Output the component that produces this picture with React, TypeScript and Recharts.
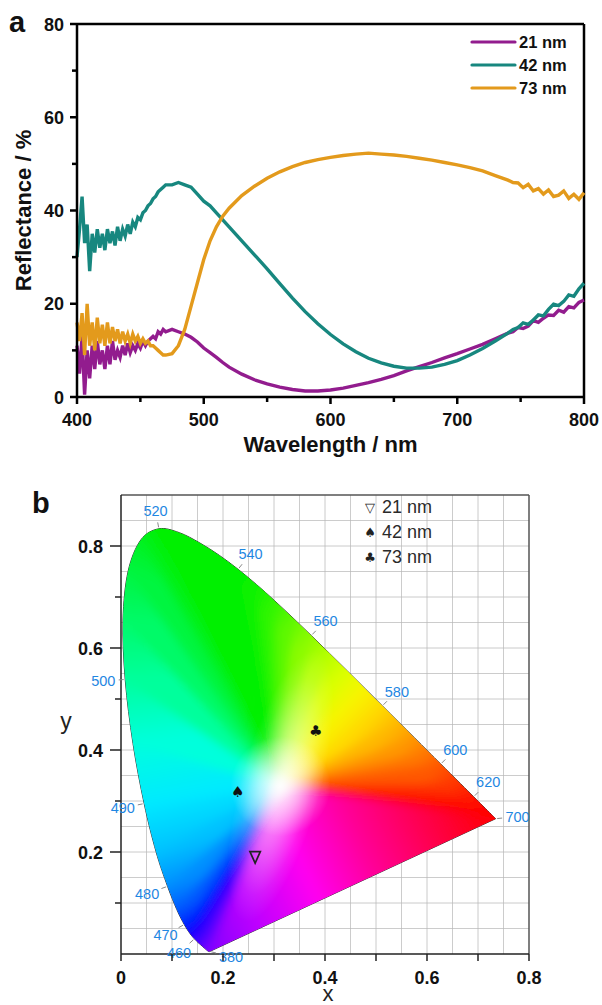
import React from "react";
import {
  LineChart,
  Line,
  XAxis,
  YAxis,
  ReferenceLine,
  Legend,
  ComposedChart,
  CartesianGrid,
  Label,
} from "recharts";

// ---------------- Panel a : reflectance spectra ----------------
const wavelengths = [
  400, 402, 404, 406, 408, 410, 412, 414, 416, 418, 420, 422, 424, 426, 428, 430, 432, 434, 436, 438,
  440, 442, 444, 446, 448, 450, 452, 454, 456, 458, 460, 462, 464, 466, 468, 470,
  475, 480, 485, 490, 495, 500, 505, 510, 515,
  520, 530, 540, 550, 560, 570, 580, 590, 600, 610, 620, 630, 640, 650, 660, 670, 680, 690, 700, 710, 720, 730, 740,
  744, 748, 752, 756, 760, 764, 768, 772, 776, 780, 784, 788, 792, 796, 800,
];
const refl21 = [
  11, 5, 13, 0.5, 10, 4, 11, 6, 12, 7, 10, 6, 11, 7, 12, 8, 10, 8.5, 11, 9,
  11.5, 9.5, 11, 10, 11.5, 10.5, 12, 11, 12, 12.5, 13, 12.5, 14, 13.5, 14.5, 14,
  14.5, 14, 13.5, 12.8, 11.8, 10.5, 9.5, 8.5, 7.4,
  6.4, 4.9, 3.7, 2.8, 2.1, 1.6, 1.3, 1.3, 1.5, 1.9, 2.5, 3.1, 3.8, 4.6, 5.6, 6.5, 7.4, 8.4, 9.3, 10.3, 11.3, 12.5, 13.7,
  14.0, 14.9, 14.7, 15.2, 16.4, 16.0, 16.9, 17.6, 17.5, 18.6, 18.2, 19.4, 19.1, 20.3, 20.8,
];
const refl42 = [
  30, 36, 43, 33, 37, 27, 35, 31, 36, 32, 35, 31.5, 36, 33, 35.5, 32.5, 36.5, 33.5, 36, 34.5,
  37, 35, 37.5, 36.5, 38.5, 38, 39.5, 40, 41, 41.5, 42.5, 43, 44, 44.5, 45, 45.5,
  45.5, 46, 45.5, 45, 43.5, 42, 41, 39.5, 38,
  36.5, 33.5, 30.5, 27.5, 24.3, 21.2, 18.3, 15.7, 13.4, 11.4, 9.7, 8.3, 7.3, 6.6, 6.2, 6.2, 6.4, 7.0, 7.8, 9.0, 10.4, 12.0, 13.7,
  14.5, 14.9, 15.9, 15.6, 16.5, 17.6, 17.4, 18.8, 19.9, 19.6, 20.5, 21.9, 21.6, 23.2, 24.4,
];
const refl73 = [
  16, 12, 18, 9, 20, 11, 16, 10, 17, 11.5, 15.5, 11, 16, 11.5, 15, 12, 14.5, 11.5, 14, 12,
  13.5, 11.5, 13.5, 12, 13, 11.5, 12.5, 11.5, 12, 11, 11, 10.5, 10, 9.5, 9, 9,
  9.3, 11, 14.5, 19.5, 24.5, 29.5, 33.5, 36.5, 38.8,
  40.5, 43.2, 45.2, 46.9, 48.3, 49.4, 50.3, 50.9, 51.4, 51.8, 52.1, 52.3, 52.1, 51.9, 51.6, 51.2, 50.8, 50.3, 49.8, 49.2, 48.5, 47.5, 46.5,
  46.0, 45.9, 44.9, 45.6, 44.2, 44.7, 43.5, 44.4, 43.0, 43.3, 44.2, 42.6, 43.5, 42.4, 43.8,
];
const seriesNames = ["21 nm", "42 nm", "73 nm"];
const xTicksA = [400, 450, 500, 550, 600, 650, 700, 750, 800];
const yTicksA = [0, 10, 20, 30, 40, 50, 60, 70, 80];

// ---------------- Panel b : CIE 1931 chromaticity ----------------
const locusNm = [
  380, 420, 440, 450, 455, 460, 465, 470, 475, 480, 485, 490, 495, 500, 505, 510, 515, 520, 525, 530,
  535, 540, 545, 550, 555, 560, 565, 570, 575, 580, 585, 590, 595, 600, 610, 620, 630, 640, 650, 660, 680, 700,
];
const locusX = [
  0.1741, 0.1714, 0.1644, 0.1566, 0.151, 0.144, 0.1355, 0.1241, 0.1096, 0.0913, 0.0687, 0.0454, 0.0235, 0.0082, 0.0039, 0.0139, 0.0389, 0.0743, 0.1142, 0.1547,
  0.1929, 0.2296, 0.2658, 0.3016, 0.3373, 0.3731, 0.4087, 0.4441, 0.4788, 0.5125, 0.5448, 0.5752, 0.6029, 0.627, 0.6658, 0.6915, 0.7079, 0.719, 0.726, 0.73, 0.7334, 0.7347,
];
const locusY = [
  0.005, 0.0051, 0.0109, 0.0177, 0.0227, 0.0297, 0.0399, 0.0578, 0.0868, 0.1327, 0.2007, 0.295, 0.4127, 0.5384, 0.6548, 0.7502, 0.812, 0.8338, 0.8262, 0.8059,
  0.7816, 0.7543, 0.7243, 0.6923, 0.6589, 0.6245, 0.5896, 0.5547, 0.5202, 0.4866, 0.4544, 0.4242, 0.3965, 0.3725, 0.334, 0.3083, 0.292, 0.2809, 0.274, 0.27, 0.2666, 0.2653,
];
const whitePoint = [0.3127, 0.329];
const wlLabels = [380, 460, 470, 480, 490, 500, 520, 540, 560, 580, 600, 620, 700];
const sampleNames = ["21 nm", "42 nm", "73 nm"];
const sampleX = [0.263, 0.229, 0.382];
const sampleY = [0.19, 0.318, 0.439];
const xTicksB = [0, 0.1, 0.2, 0.3, 0.4, 0.5, 0.6, 0.7, 0.8];
const yTicksB = [0.1, 0.2, 0.3, 0.4, 0.5, 0.6, 0.7, 0.8];
const gridXB = [0.05, 0.1, 0.15, 0.2, 0.25, 0.3, 0.35, 0.4, 0.45, 0.5, 0.55, 0.6, 0.65, 0.7, 0.75];
const gridYB = [0.05, 0.1, 0.15, 0.2, 0.25, 0.3, 0.35, 0.4, 0.45, 0.5, 0.55, 0.6, 0.65, 0.7, 0.75, 0.8, 0.85];

// ---------------- styles ----------------
const FONT = '"Liberation Sans", Arial, Helvetica, sans-serif';
const SERIES_COLORS = ["#921C8E", "#17877F", "#E39A1C"];
const SAMPLE_GLYPHS = ["tri", "\u2660", "\u2663"];
const LEGEND_GLYPHS = ["\u25BD", "\u2660", "\u2663"];
const WL_BLUE = "#1F87E2";
const HUE: Record<number, string> = {
  380: "#8400FF", 420: "#7C00FF", 440: "#6C00FF", 450: "#5800FF", 455: "#4400FF", 460: "#3000FF",
  465: "#1400FF", 470: "#0022FF", 475: "#0058FF", 480: "#008EFF", 485: "#00C2FF", 490: "#00EAFF",
  495: "#00FFDC", 500: "#00FF9C", 505: "#00FA68", 510: "#00F540", 515: "#00F220", 520: "#00F000",
  525: "#00F000", 530: "#00F000", 535: "#00F000", 540: "#00F000", 545: "#0CF200", 550: "#2EF500",
  555: "#5CF800", 560: "#8AFC00", 565: "#B6FF00", 570: "#DCFF00", 575: "#F8F400", 580: "#FFDA00",
  585: "#FFB800", 590: "#FF9600", 595: "#FF7600", 600: "#FF5800", 610: "#FF3000", 620: "#FF1400",
  630: "#FF0800", 640: "#FF0000", 650: "#FF0000", 660: "#FF0000", 680: "#FF0000", 700: "#FF0000",
};
const PURPLE_STOPS: [number, string][] = [
  [0, "#FF0000"], [0.2, "#FF0048"], [0.42, "#FF0098"], [0.62, "#FF00F0"], [0.82, "#C000FF"], [1, "#8400FF"],
];
const LABEL_DIR: Record<number, [number, number]> = { 380: [1, 0.25], 700: [1, -0.1] };

// ---------------- derived tables ----------------
const tableA = wavelengths.map((w, i) => ({ w, r21: refl21[i], r42: refl42[i], r73: refl73[i] }));
const locusData = locusNm.map((nm, i) => ({ nm, x: locusX[i], y: locusY[i] }));
const purpleLine = [locusData[locusData.length - 1], locusData[0]];
const labelData = wlLabels.map((nm) => {
  const i = locusNm.indexOf(nm);
  const n = locusNm.length;
  const a = (i - 1 + n) % n;
  const b = (i + 1) % n;
  const tx = locusX[b] - locusX[a];
  const ty = -(locusY[b] - locusY[a]);
  let ux = ty;
  let uy = -tx;
  if (LABEL_DIR[nm]) {
    ux = LABEL_DIR[nm][0];
    uy = LABEL_DIR[nm][1];
  }
  const len = Math.hypot(ux, uy) || 1;
  return { nm, x: locusX[i], y: locusY[i], ux: ux / len, uy: uy / len };
});
const sampleData = sampleNames.map((name, i) => ({ name, x: sampleX[i], y: sampleY[i], idx: i }));

// smooth (Catmull-Rom) path through pixel points
function catmullSegments(pts: [number, number][], ctx: any, move: boolean) {
  if (!pts.length) return;
  if (move) ctx.moveTo(pts[0][0], pts[0][1]);
  for (let i = 0; i < pts.length - 1; i++) {
    const p0 = pts[i - 1] || pts[i];
    const p1 = pts[i];
    const p2 = pts[i + 1];
    const p3 = pts[i + 2] || p2;
    ctx.bezierCurveTo(
      p1[0] + (p2[0] - p0[0]) / 6,
      p1[1] + (p2[1] - p0[1]) / 6,
      p2[0] - (p3[0] - p1[0]) / 6,
      p2[1] - (p3[1] - p1[1]) / 6,
      p2[0],
      p2[1]
    );
  }
}
function catmullCurve(context: any) {
  let pts: [number, number][] = [];
  return {
    areaStart() {},
    areaEnd() {},
    lineStart() {
      pts = [];
    },
    lineEnd() {
      catmullSegments(pts, context, true);
    },
    point(x: number, y: number) {
      pts.push([+x, +y]);
    },
  };
}
class PathStr {
  d = "";
  moveTo(x: number, y: number) {
    this.d += `M${x},${y}`;
  }
  lineTo(x: number, y: number) {
    this.d += `L${x},${y}`;
  }
  bezierCurveTo(a: number, b: number, c: number, d: number, e: number, f: number) {
    this.d += `C${a},${b},${c},${d},${e},${f}`;
  }
}

// ---------------- ticks ----------------
const TickAX = (p: any) => {
  const { x, y, payload } = p;
  const v = payload.value;
  const major = v % 100 === 0;
  return (
    <g>
      <line x1={x} y1={y} x2={x} y2={y + (major ? 7 : 5)} stroke="#000" strokeWidth={2.5} />
      {major && (
        <text x={x} y={y + 29} textAnchor="middle" fontFamily={FONT} fontWeight="bold" fontSize={18} fill="#111">
          {v}
        </text>
      )}
    </g>
  );
};
const TickAY = (p: any) => {
  const { x, y, payload } = p;
  const v = payload.value;
  const major = v % 20 === 0;
  return (
    <g>
      <line x1={x} y1={y} x2={x - (major ? 7 : 5)} y2={y} stroke="#000" strokeWidth={2.5} />
      {major && (
        <text x={x - 13} y={y + 6.5} textAnchor="end" fontFamily={FONT} fontWeight="bold" fontSize={18} fill="#111">
          {v}
        </text>
      )}
    </g>
  );
};
const TickBX = (p: any) => {
  const { x, y, payload } = p;
  const v = payload.value;
  const major = Math.round(v * 10) % 2 === 0;
  return (
    <g>
      <line x1={x} y1={y} x2={x} y2={y + 7} stroke="#222" strokeWidth={1.5} />
      {major && (
        <text x={x} y={y + 29.5} textAnchor="middle" fontFamily={FONT} fontWeight="bold" fontSize={18} fill="#111">
          {v === 0 ? "0" : v.toFixed(1)}
        </text>
      )}
    </g>
  );
};
const TickBY = (p: any) => {
  const { x, y, payload } = p;
  const v = payload.value;
  const major = Math.round(v * 10) % 2 === 0;
  return (
    <g>
      <line x1={x} y1={y} x2={x - (major ? 11 : 6)} y2={y} stroke="#222" strokeWidth={1.5} />
      {major && (
        <text x={x - 18} y={y + 6.5} textAnchor="end" fontFamily={FONT} fontWeight="bold" fontSize={18} fill="#111">
          {v.toFixed(1)}
        </text>
      )}
    </g>
  );
};

// ---------------- legends ----------------
const LegendA = () => (
  <svg width={130} height={72} style={{ overflow: "visible" }}>
    {seriesNames.map((n, i) => (
      <g key={n}>
        <line x1={4} x2={47} y1={12 + i * 23} y2={12 + i * 23} stroke={SERIES_COLORS[i]} strokeWidth={3.2} strokeLinecap="round" />
        <text x={51} y={12 + i * 23} dy="0.36em" fontFamily={FONT} fontWeight="bold" fontSize={16.5} fill="#111">
          {n}
        </text>
      </g>
    ))}
  </svg>
);
const LegendB = () => (
  <svg width={110} height={80} style={{ overflow: "visible" }}>
    {sampleNames.map((n, i) => (
      <g key={n}>
        <text x={8} y={12 + i * 25} dy="0.36em" textAnchor="middle" fontFamily="DejaVu Sans" fontSize={13} fill="#222">
          {LEGEND_GLYPHS[i]}
        </text>
        <text x={20} y={12 + i * 25} dy="0.36em" fontFamily={FONT} fontSize={18} fill="#2a2a2a">
          {n}
        </text>
      </g>
    ))}
  </svg>
);

// ---------------- CIE fill (drawn from the library-scaled locus points) ----------------
const acc: any[] = [];
const LocusFill = (props: any) => {
  const { index, cx, cy, payload } = props;
  let pts: any[] | undefined = props.points;
  const last = locusData.length - 1;
  if (!pts || !pts.length) {
    if (index === 0) acc.length = 0;
    acc[index] = { x: cx, y: cy, payload };
    if (index !== last) return <g key={`lf${index}`} />;
    pts = acc.slice();
  } else if (index !== 0) {
    return <g key={`lf${index}`} />;
  }
  let iMinX = 0, iMaxX = 0, iMinY = 0, iMaxY = 0;
  pts.forEach((p: any, i: number) => {
    if (p.payload.x < pts![iMinX].payload.x) iMinX = i;
    if (p.payload.x > pts![iMaxX].payload.x) iMaxX = i;
    if (p.payload.y < pts![iMinY].payload.y) iMinY = i;
    if (p.payload.y > pts![iMaxY].payload.y) iMaxY = i;
  });
  const sx = (pts[iMaxX].x - pts[iMinX].x) / (pts[iMaxX].payload.x - pts[iMinX].payload.x);
  const ox = pts[iMinX].x - sx * pts[iMinX].payload.x;
  const sy = (pts[iMaxY].y - pts[iMinY].y) / (pts[iMaxY].payload.y - pts[iMinY].payload.y);
  const oy = pts[iMinY].y - sy * pts[iMinY].payload.y;
  const W = { x: ox + sx * whitePoint[0], y: oy + sy * whitePoint[1] };

  const ps = new PathStr();
  catmullSegments(pts.map((p: any) => [p.x, p.y] as [number, number]), ps, true);
  const clipD = ps.d + "Z";

  const ring = [...pts, pts[0]];
  const ext = (p: any) => ({ x: W.x + (p.x - W.x) * 1.3, y: W.y + (p.y - W.y) * 1.3 });
  const segs = [];
  const defs = [];
  for (let i = 0; i < ring.length - 1; i++) {
    const a = ring[i];
    const b = ring[i + 1];
    const id = `cieSeg${i}`;
    const isPurple = i === ring.length - 2;
    const stops = isPurple
      ? PURPLE_STOPS
      : ([
          [0, HUE[a.payload.nm]],
          [1, HUE[b.payload.nm]],
        ] as [number, string][]);
    defs.push(
      <linearGradient key={id} id={id} gradientUnits="userSpaceOnUse" x1={a.x} y1={a.y} x2={b.x} y2={b.y}>
        {stops.map(([o, c], k) => (
          <stop key={k} offset={o} stopColor={c} />
        ))}
      </linearGradient>
    );
    const ea = ext(a);
    const eb = ext(b);
    segs.push(
      <polygon
        key={`s${i}`}
        points={`${W.x},${W.y} ${ea.x},${ea.y} ${eb.x},${eb.y}`}
        fill={`url(#${id})`}
        stroke={`url(#${id})`}
        strokeWidth={1}
        strokeLinejoin="round"
      />
    );
  }
  return (
    <g key="locus-fill">
      <defs>
        {defs}
        <clipPath id="cieClip">
          <path d={clipD} />
        </clipPath>
        <filter id="cieBlur" filterUnits="userSpaceOnUse" x={-50} y={-50} width={720} height={650}>
          <feGaussianBlur stdDeviation={5} />
        </filter>
        <radialGradient id="cieWhiteCore" gradientUnits="userSpaceOnUse" cx={W.x} cy={W.y} r={50}>
          <stop offset={0} stopColor="#fff" stopOpacity={0.92} />
          <stop offset={0.35} stopColor="#fff" stopOpacity={0.55} />
          <stop offset={1} stopColor="#fff" stopOpacity={0} />
        </radialGradient>
        <radialGradient id="cieWhiteBand">
          <stop offset={0} stopColor="#fff" stopOpacity={0.7} />
          <stop offset={0.45} stopColor="#fff" stopOpacity={0.38} />
          <stop offset={0.8} stopColor="#fff" stopOpacity={0.1} />
          <stop offset={1} stopColor="#fff" stopOpacity={0} />
        </radialGradient>
      </defs>
      <g clipPath="url(#cieClip)">
        <g filter="url(#cieBlur)">{segs}</g>
        <ellipse cx={W.x} cy={W.y} rx={140} ry={40} transform={`rotate(-75 ${W.x} ${W.y})`} fill="url(#cieWhiteBand)" />
        <circle cx={W.x} cy={W.y} r={50} fill="url(#cieWhiteCore)" />
      </g>
    </g>
  );
};

const WlLabel = (p: any) => {
  const { cx, cy, payload, index } = p;
  if (cx == null) return <g key={`wl${index}`} />;
  const { ux, uy, nm } = payload;
  const d = 17 + 5 * Math.abs(ux);
  return (
    <g key={`wl${index}`}>
      <line x1={cx + ux * 1.5} y1={cy + uy * 1.5} x2={cx + ux * 6.5} y2={cy + uy * 6.5} stroke="#8a8a8a" strokeWidth={1} />
      <text x={cx + ux * d} y={cy + uy * d} dy="0.36em" textAnchor="middle" fontFamily={FONT} fontSize={14.5} fill={WL_BLUE}>
        {nm}
      </text>
    </g>
  );
};

const SampleMark = (p: any) => {
  const { cx, cy, payload, index } = p;
  if (cx == null) return <g key={`sm${index}`} />;
  const g = SAMPLE_GLYPHS[payload.idx];
  if (g === "tri") {
    return (
      <path
        key={`sm${index}`}
        d={`M${cx - 5.2},${cy - 5.5} L${cx + 5.2},${cy - 5.5} L${cx},${cy + 6} Z`}
        fill="none"
        stroke="#222"
        strokeWidth={1.7}
      />
    );
  }
  return (
    <text key={`sm${index}`} x={cx} y={cy} dy="0.36em" textAnchor="middle" fontFamily="DejaVu Sans" fontSize={15} fill="#111">
      {g}
    </text>
  );
};

export default function App() {
  return (
    <div style={{ position: "absolute", left: 0, top: 0, width: 602, height: 1005, background: "#fff", overflow: "hidden" }}>
      <div style={{ position: "absolute", left: 0, top: 0 }}>
        <LineChart width={602} height={470} data={tableA} margin={{ top: 24, right: 18, bottom: 43, left: 27 }}>
          <XAxis
            type="number"
            dataKey="w"
            domain={[400, 800]}
            ticks={xTicksA}
            interval={0}
            tickSize={0}
            tickMargin={0}
            tick={<TickAX />}
            tickLine={false}
            axisLine={{ stroke: "#000", strokeWidth: 2.5 }}
            height={30}
          >
            <Label
              content={(lp: any) => {
                const vb = lp.viewBox || { x: 77, y: 397, width: 507 };
                return (
                  <text x={vb.x + vb.width / 2} y={vb.y + 55} textAnchor="middle" fontFamily={FONT} fontWeight="bold" fontSize={22} fill="#111">
                    Wavelength / nm
                  </text>
                );
              }}
            />
          </XAxis>
          <YAxis
            type="number"
            domain={[0, 80]}
            ticks={yTicksA}
            interval={0}
            tickSize={0}
            tickMargin={0}
            tick={<TickAY />}
            tickLine={false}
            axisLine={{ stroke: "#000", strokeWidth: 2.5 }}
            width={50}
          >
            <Label
              content={(lp: any) => {
                const vb = lp.viewBox || { x: 27, y: 24, height: 373 };
                const cx = vb.x + 4;
                const cy = vb.y + vb.height / 2;
                return (
                  <text x={cx} y={cy} transform={`rotate(-90 ${cx} ${cy})`} textAnchor="middle" fontFamily={FONT} fontWeight="bold" fontSize={22} fill="#111">
                    Reflectance / %
                  </text>
                );
              }}
            />
          </YAxis>
          <ReferenceLine y={80} stroke="#000" strokeWidth={2.5} />
          <ReferenceLine x={800} stroke="#000" strokeWidth={2.5} />
          <Line type="linear" dataKey="r21" name={seriesNames[0]} stroke={SERIES_COLORS[0]} strokeWidth={3.4} dot={false} isAnimationActive={false} />
          <Line type="linear" dataKey="r42" name={seriesNames[1]} stroke={SERIES_COLORS[1]} strokeWidth={3.4} dot={false} isAnimationActive={false} />
          <Line type="linear" dataKey="r73" name={seriesNames[2]} stroke={SERIES_COLORS[2]} strokeWidth={3.4} dot={false} isAnimationActive={false} />
          <Legend
            layout="horizontal"
            align="center"
            verticalAlign="middle"
            content={() => <LegendA />}
            wrapperStyle={{ position: "absolute", left: 468, top: 30, width: 130, height: 72 }}
          />
        </LineChart>
      </div>

      <div style={{ position: "absolute", left: 0, top: 470 }}>
        <ComposedChart width={602} height={535} margin={{ top: 25, right: 73, bottom: 21, left: 71 }}>
          <CartesianGrid stroke="#dcdcdc" strokeWidth={1} verticalValues={gridXB} horizontalValues={gridYB} />
          <XAxis
            type="number"
            dataKey="x"
            domain={[0, 0.8]}
            ticks={xTicksB}
            interval={0}
            tickSize={0}
            tickMargin={0}
            tick={<TickBX />}
            tickLine={false}
            axisLine={{ stroke: "#222", strokeWidth: 1.5 }}
            height={30}
          >
            <Label
              content={(lp: any) => {
                const vb = lp.viewBox || { x: 121, y: 484, width: 408 };
                return (
                  <text x={vb.x + vb.width / 2 + 3} y={vb.y + 47} textAnchor="middle" fontFamily={FONT} fontSize={22} fill="#222">
                    x
                  </text>
                );
              }}
            />
          </XAxis>
          <YAxis
            type="number"
            dataKey="y"
            domain={[0, 0.9]}
            ticks={yTicksB}
            interval={0}
            tickSize={0}
            tickMargin={0}
            tick={<TickBY />}
            tickLine={false}
            axisLine={{ stroke: "#222", strokeWidth: 1.5 }}
            width={50}
          >
            <Label
              content={(lp: any) => {
                const vb = lp.viewBox || { x: 71, y: 25, height: 459 };
                return (
                  <text x={vb.x - 5} y={vb.y + 234} textAnchor="middle" fontFamily={FONT} fontSize={23} fill="#222">
                    y
                  </text>
                );
              }}
            />
          </YAxis>
          <ReferenceLine y={0.9} stroke="#555" strokeWidth={1.5} />
          <ReferenceLine x={0.8} stroke="#555" strokeWidth={1.5} />
          <Line
            data={locusData}
            dataKey="y"
            type="linear"
            stroke="none"
            dot={(dp: any) => <LocusFill key={`lf${dp.index}`} {...dp} />}
            activeDot={false}
            isAnimationActive={false}
            legendType="none"
          />
          <CartesianGrid stroke="#000" strokeOpacity={0.07} strokeWidth={1} verticalValues={gridXB} horizontalValues={gridYB} />
          <Line
            data={locusData}
            dataKey="y"
            type={catmullCurve as any}
            stroke="#333"
            strokeWidth={1}
            dot={false}
            activeDot={false}
            isAnimationActive={false}
            legendType="none"
          />
          <Line
            data={purpleLine}
            dataKey="y"
            type="linear"
            stroke="#333"
            strokeWidth={1}
            dot={false}
            activeDot={false}
            isAnimationActive={false}
            legendType="none"
          />
          <Line
            data={labelData}
            dataKey="y"
            type="linear"
            stroke="none"
            dot={(dp: any) => <WlLabel key={`wl${dp.index}`} {...dp} />}
            activeDot={false}
            isAnimationActive={false}
            legendType="none"
          />
          <Line
            data={sampleData}
            dataKey="y"
            type="linear"
            stroke="none"
            dot={(dp: any) => <SampleMark key={`sm${dp.index}`} {...dp} />}
            activeDot={false}
            isAnimationActive={false}
            legendType="none"
          />
          <Legend
            layout="horizontal"
            align="center"
            verticalAlign="middle"
            content={() => <LegendB />}
            wrapperStyle={{ position: "absolute", left: 362, top: 25, width: 110, height: 80 }}
          />
        </ComposedChart>
      </div>

      <svg width={602} height={1005} style={{ position: "absolute", left: 0, top: 0, pointerEvents: "none" }}>
        <text x={9} y={32} fontFamily={FONT} fontWeight="bold" fontSize={29} fill="#111">
          a
        </text>
        <text x={32} y={513} fontFamily={FONT} fontWeight="bold" fontSize={29} fill="#111">
          b
        </text>
      </svg>
    </div>
  );
}
